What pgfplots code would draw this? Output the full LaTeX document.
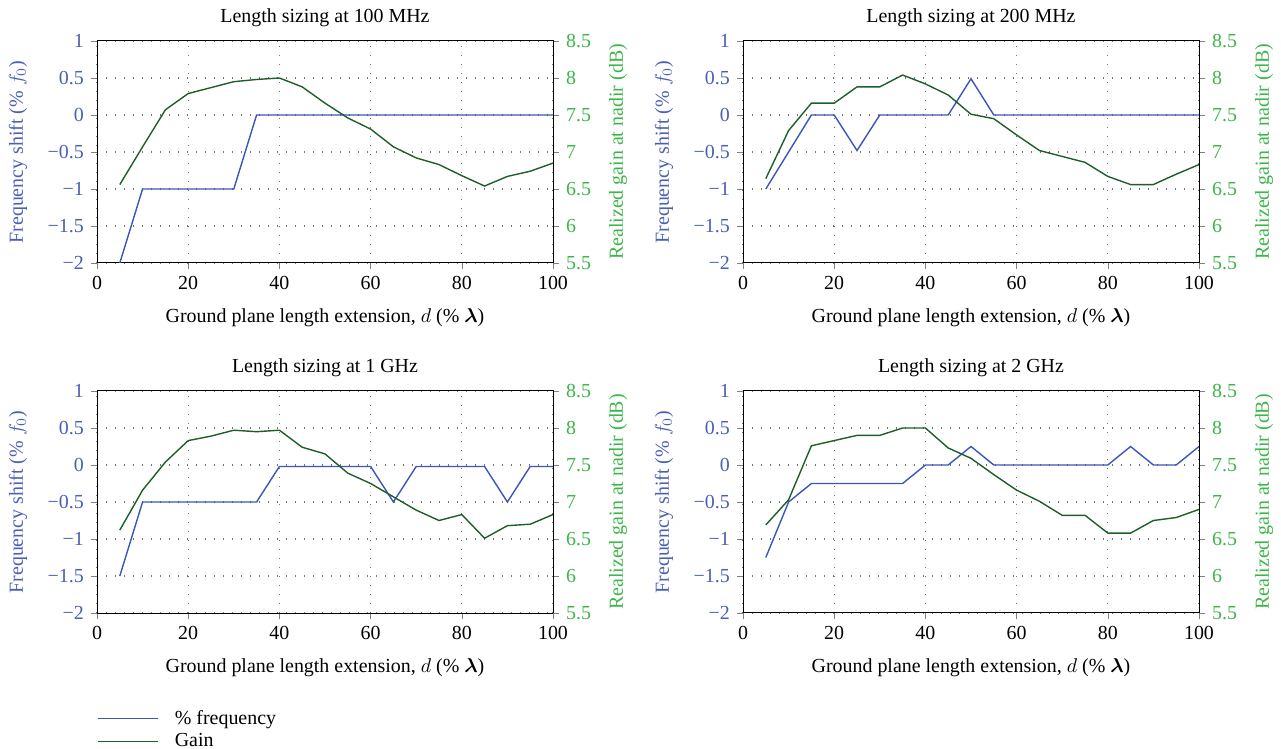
\documentclass[border=0pt]{standalone}
\usepackage{amsmath}
\usepackage{fontspec}
\setmainfont{Liberation Serif}
\usepackage{pgfplots}
\pgfplotsset{compat=1.18}

\definecolor{freqblue}{RGB}{58,86,184}
\definecolor{freqtext}{RGB}{75,95,180}
\definecolor{gaingreen}{RGB}{30,94,42}
\definecolor{gaintext}{RGB}{61,181,74}

\pgfplotsset{
  panel/.style={
    width=228bp, height=111bp, scale only axis,
    xmin=0, xmax=100,
    font=\fontsize{10}{12}\selectfont,
    /pgf/number format/assume math mode=true,
    tick align=outside, major tick length=3bp,
    every axis/.append style={line width=0.5bp},
  },
  freqaxis/.style={
    panel,
    ymin=-2, ymax=1,
    xtick={0,20,...,100}, xtick pos=bottom,
    ytick={-2,-1.5,-1,-0.5,0,0.5,1}, ytick pos=left,
    yticklabels={−2,−1.5,−1,−0.5,0,0.5,1},
    yticklabel style={text=freqtext},
    grid=major,
    major grid style={black!55, line width=0.6bp, dash pattern=on 0.6bp off 3.9bp},
    title style={at={(axis description cs:0.5,1.104)}, anchor=center, yshift=-6pt},
    xlabel={Ground plane length extension, $d$ (\% $\boldsymbol{\lambda}$)},
    xlabel style={at={(axis description cs:0.5,-0.248)}, anchor=center},
    ylabel={Frequency shift (\% $f_0$)},
    ylabel style={at={(axis description cs:-0.173,0.5)}, anchor=center, text=freqtext},
  },
  gainaxis/.style={
    panel,
    ymin=5.5, ymax=8.5,
    ytick={5.5,6,6.5,7,7.5,8,8.5},
    axis y line*=right, axis x line=none,
    yticklabel style={text=gaintext},
    ylabel={Realized gain at nadir (dB)},
    ylabel style={at={(axis description cs:1.1425,0.5)}, anchor=center, text=gaintext},
  },
  freqline/.style={freqblue, line width=0.7bp},
  gainline/.style={gaingreen, line width=0.7bp},
}

\begin{document}
\begin{tikzpicture}
\path[use as bounding box] (0,0) rectangle (640.5bp,374.5bp);

% ---- 100 MHz ----
\begin{axis}[freqaxis, at={(48.5bp,243bp)}, title={Length sizing at 100 MHz}]
\addplot[freqline] coordinates {
(5,-2) (10,-1) (15,-1) (20,-1) (25,-1) (30,-1) (35,0) (40,0) (45,0) (50,0)
(55,0) (60,0) (65,0) (70,0) (75,0) (80,0) (85,0) (90,0) (95,0) (100,0)};
\end{axis}
\begin{axis}[gainaxis, at={(48.5bp,243bp)}]
\addplot[gainline] coordinates {
(5,6.56) (10,7.07) (15,7.57) (20,7.79) (25,7.87) (30,7.95) (35,7.98) (40,8.0)
(45,7.88) (50,7.66) (55,7.46) (60,7.31) (65,7.07) (70,6.92) (75,6.83) (80,6.68)
(85,6.54) (90,6.67) (95,6.74) (100,6.85)};
\end{axis}

% ---- 200 MHz ----
\begin{axis}[freqaxis, at={(371.5bp,243bp)}, title={Length sizing at 200 MHz}]
\addplot[freqline] coordinates {
(5,-1) (10,-0.5) (15,0) (20,0) (25,-0.48) (30,0) (35,0) (40,0) (45,0) (50,0.49)
(55,0) (60,0) (65,0) (70,0) (75,0) (80,0) (85,0) (90,0) (95,0) (100,0)};
\end{axis}
\begin{axis}[gainaxis, at={(371.5bp,243bp)}]
\addplot[gainline] coordinates {
(5,6.64) (10,7.29) (15,7.66) (20,7.66) (25,7.88) (30,7.88) (35,8.04) (40,7.92)
(45,7.77) (50,7.51) (55,7.45) (60,7.23) (65,7.02) (70,6.94) (75,6.86) (80,6.67)
(85,6.56) (90,6.56) (95,6.70) (100,6.83)};
\end{axis}

% ---- 1 GHz ----
\begin{axis}[freqaxis, at={(48.5bp,68bp)}, title={Length sizing at 1 GHz},
  legend style={at={(axis description cs:0,-0.4)}, anchor=north west, xshift=-3bp,
    draw=none, fill=none, font=\fontsize{10}{12}\selectfont, row sep=-1bp, column sep=6bp},
  legend cell align=left,
  legend image code/.code={\draw[#1] (0bp,0bp) -- (30bp,0bp);}]
\addplot[freqline] coordinates {
(5,-1.5) (10,-0.5) (15,-0.5) (20,-0.5) (25,-0.5) (30,-0.5) (35,-0.5) (40,-0.02)
(45,-0.02) (50,-0.02) (55,-0.02) (60,-0.02) (65,-0.5) (70,-0.02) (75,-0.02)
(80,-0.02) (85,-0.02) (90,-0.5) (95,-0.02) (100,-0.02)};
\addlegendentry{\% frequency}
\addlegendimage{gainline}
\addlegendentry{Gain}
\end{axis}
\begin{axis}[gainaxis, at={(48.5bp,68bp)}]
\addplot[gainline] coordinates {
(5,6.62) (10,7.16) (15,7.54) (20,7.83) (25,7.89) (30,7.97) (35,7.95) (40,7.97)
(45,7.74) (50,7.65) (55,7.39) (60,7.25) (65,7.07) (70,6.89) (75,6.75) (80,6.83)
(85,6.51) (90,6.68) (95,6.70) (100,6.83)};
\end{axis}

% ---- 2 GHz ----
\begin{axis}[freqaxis, at={(371.5bp,68bp)}, title={Length sizing at 2 GHz}]
\addplot[freqline] coordinates {
(5,-1.25) (10,-0.5) (15,-0.25) (20,-0.25) (25,-0.25) (30,-0.25) (35,-0.25) (40,0)
(45,0) (50,0.25) (55,0) (60,0) (65,0) (70,0) (75,0) (80,0) (85,0.25) (90,0)
(95,0) (100,0.25)};
\end{axis}
\begin{axis}[gainaxis, at={(371.5bp,68bp)}]
\addplot[gainline] coordinates {
(5,6.69) (10,7.03) (15,7.76) (20,7.83) (25,7.90) (30,7.90) (35,8.0) (40,8.0)
(45,7.73) (50,7.59) (55,7.37) (60,7.16) (65,7.01) (70,6.82) (75,6.82) (80,6.58)
(85,6.58) (90,6.75) (95,6.79) (100,6.90)};
\end{axis}
\end{tikzpicture}
\end{document}
